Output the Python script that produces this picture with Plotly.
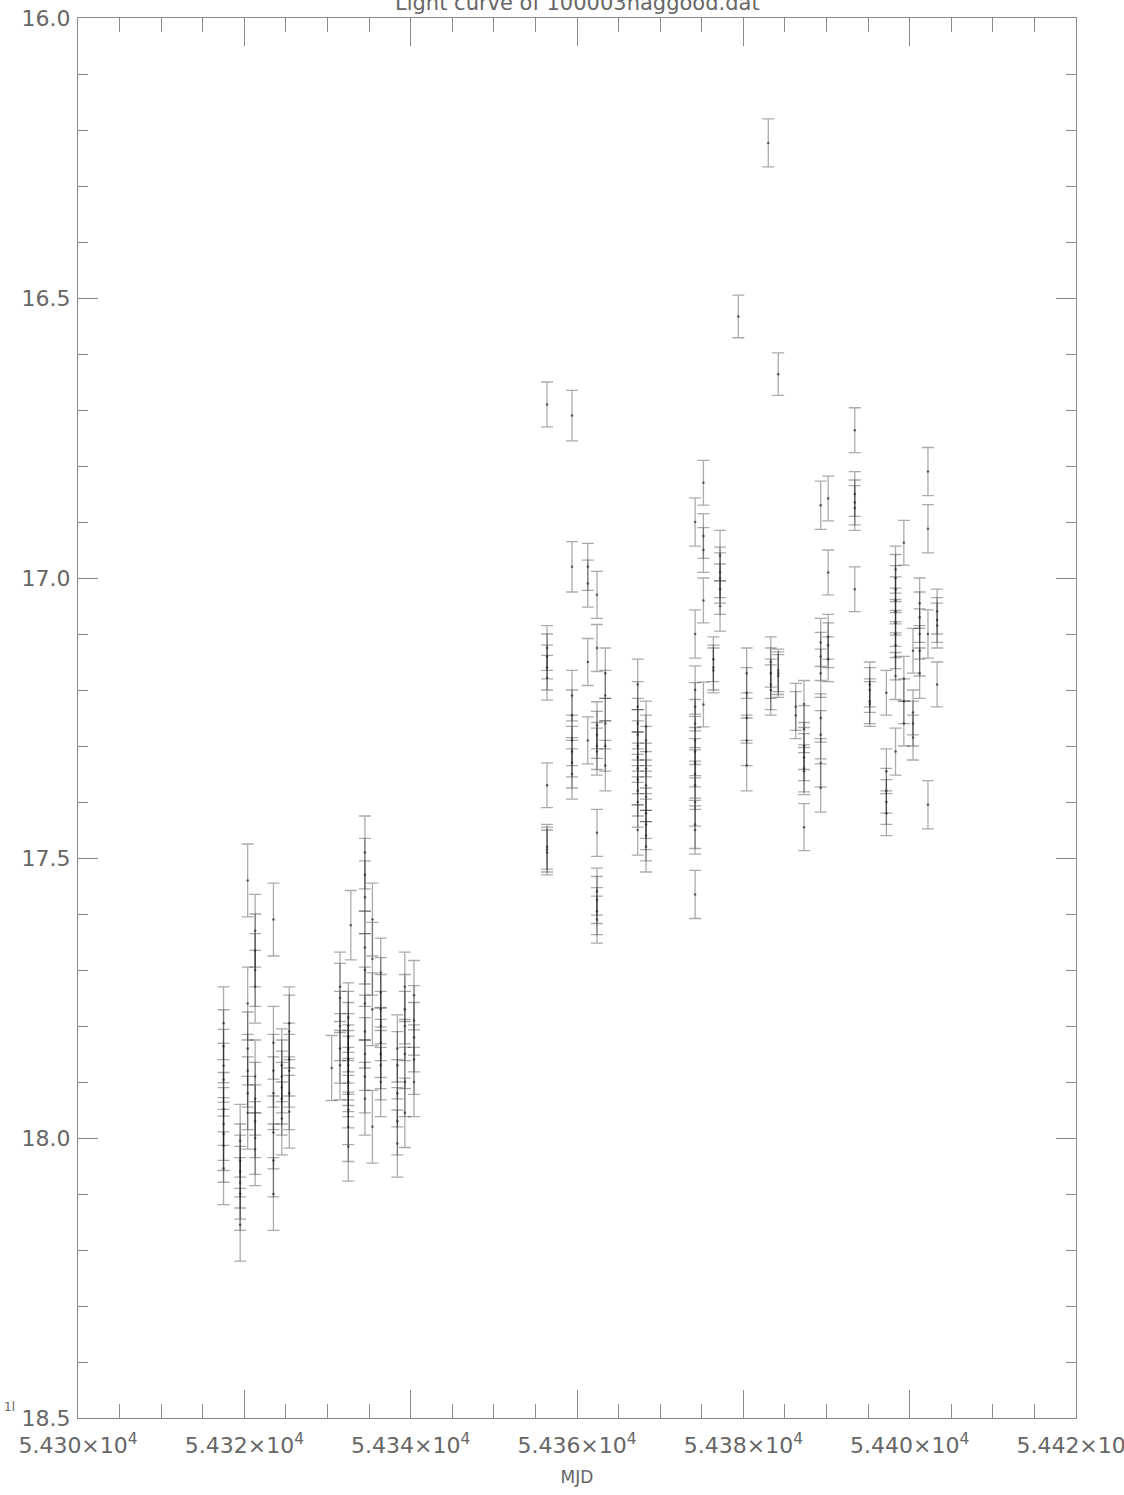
import plotly.graph_objects as go

# ---------------- data ----------------
# Season 1: column MJDs, magnitudes per column, error per column
s1_mjd = [54317.5, 54319.5, 54320.4, 54321.3, 54323.5, 54324.5, 54325.4]
s1_mag = [
    [17.795, 17.836, 17.871, 17.896, 17.948, 17.975, 17.993, 18.014, 18.054],
    [18.005, 18.04, 18.06, 18.08, 18.10, 18.155],
    [17.54, 17.76, 17.84, 17.88, 17.92, 17.955],
    [17.63, 17.665, 17.70, 17.73, 17.89, 17.93, 17.97, 18.0, 18.02],
    [17.61, 17.83, 17.88, 17.92, 17.99, 18.04, 18.10],
    [17.87, 17.89, 17.91, 17.93, 17.965],
    [17.795, 17.81, 17.86, 17.88, 17.92, 17.953],
]
s1_err = [0.065, 0.065, 0.065, 0.065, 0.065, 0.065, 0.065]

# Season 2
s2_mjd = [54330.5, 54331.5, 54332.5, 54332.8, 54334.5, 54335.4, 54336.4,
          54338.4, 54339.3, 54340.4]
s2_mag = [
    [17.875],
    [17.73, 17.75, 17.80, 17.84, 17.87],
    [17.785, 17.80, 17.82, 17.84, 17.86, 17.87, 17.88, 17.90, 17.92, 17.95, 17.98, 18.015],
    [17.62],
    [17.49, 17.53, 17.57, 17.66, 17.70, 17.76, 17.81, 17.85, 17.89, 17.93],
    [17.61, 17.68, 17.77, 17.98],
    [17.705, 17.74, 17.77, 17.80, 17.83, 17.85, 17.87, 17.90],
    [17.84, 17.87, 17.92, 17.97, 18.01],
    [17.73, 17.77, 17.80, 17.85, 17.90, 17.955],
    [17.745, 17.79, 17.82, 17.86, 17.90],
]
s2_err = [0.058, 0.062, 0.062, 0.062, 0.065, 0.065, 0.062, 0.06, 0.062, 0.062]

# Season 3
s3_mjd = [54356.4, 54359.4, 54361.3, 54362.4, 54363.4, 54367.3, 54368.3,
          54374.2, 54375.2, 54376.4, 54377.2, 54379.4, 54380.4, 54383.0,
          54383.3, 54384.2, 54386.3, 54387.3, 54389.3, 54390.2, 54393.4,
          54395.2, 54397.2, 54398.3, 54399.3, 54400.4, 54401.2, 54402.2,
          54403.3]
s3_mag = [
    [16.69, 17.125, 17.14, 17.16, 17.178, 17.37, 17.48, 17.485, 17.49],
    [16.71, 16.98, 17.21, 17.245, 17.29, 17.31, 17.33, 17.35],
    [16.98, 17.01, 17.15, 17.29],
    [17.03, 17.125, 17.263, 17.28, 17.30, 17.31, 17.455, 17.56, 17.575, 17.595, 17.61],
    [17.17, 17.21, 17.26, 17.30, 17.335],
    [17.19, 17.23, 17.26, 17.28, 17.30, 17.32, 17.34, 17.36, 17.38, 17.40, 17.45],
    [17.265, 17.29, 17.31, 17.34, 17.37, 17.39, 17.42, 17.44, 17.46, 17.48],
    [16.90, 17.10, 17.20, 17.23, 17.26, 17.29, 17.31, 17.33, 17.35, 17.37, 17.40, 17.44, 17.45, 17.565],
    [16.83, 16.925, 16.95, 17.04, 17.226],
    [17.145, 17.16, 17.165],
    [16.96, 16.99, 17.0, 17.02, 17.05],
    [16.533],
    [17.17, 17.205, 17.25, 17.29, 17.335],
    [16.223],
    [17.15, 17.17, 17.19, 17.2],
    [16.636, 17.165, 17.17, 17.175],
    [17.23, 17.245],
    [17.225, 17.27, 17.30, 17.32, 17.34, 17.345, 17.445],
    [16.87, 17.115, 17.14, 17.17, 17.25, 17.28, 17.33, 17.375],
    [16.858, 16.99, 17.105, 17.12, 17.145],
    [16.736, 16.85, 16.865, 16.875, 17.02],
    [17.19, 17.2, 17.22, 17.225],
    [17.205, 17.345, 17.38, 17.40, 17.42],
    [16.985, 17.00, 17.02, 17.04, 17.06, 17.08, 17.10, 17.12, 17.14, 17.175, 17.31],
    [16.937, 17.18, 17.22, 17.26],
    [17.13, 17.24, 17.26, 17.285],
    [17.045, 17.07, 17.10, 17.13, 17.17],
    [16.81, 16.912, 17.10, 17.405],
    [17.06, 17.075, 17.085, 17.19],
]
s3_err = [0.04, 0.045, 0.042, 0.042, 0.045, 0.045, 0.045,
          0.043, 0.04, 0.04, 0.045, 0.038, 0.045, 0.043,
          0.045, 0.038, 0.042, 0.042, 0.043, 0.04, 0.04,
          0.04, 0.04, 0.042, 0.04, 0.04, 0.045, 0.043,
          0.04]

x_tickvals = [54300, 54320, 54340, 54360, 54380, 54400, 54420]
x_ticktext = ["5.430×10<sup>4</sup>", "5.432×10<sup>4</sup>", "5.434×10<sup>4</sup>",
              "5.436×10<sup>4</sup>", "5.438×10<sup>4</sup>", "5.440×10<sup>4</sup>",
              "5.442×10<sup>4</sup>"]
y_tickvals = [16.0, 16.5, 17.0, 17.5, 18.0, 18.5]
y_ticktext = ["16.0", "16.5", "17.0", "17.5", "18.0", "18.5"]

title_text = "Light curve of 100003naggood.dat"

# ---------------- build ----------------
xs, ys, es = [], [], []
for cols_mjd, cols_mag, cols_err in ((s1_mjd, s1_mag, s1_err),
                                     (s2_mjd, s2_mag, s2_err),
                                     (s3_mjd, s3_mag, s3_err)):
    for m, mags, e in zip(cols_mjd, cols_mag, cols_err):
        for v in mags:
            xs.append(m)
            ys.append(v)
            es.append(e)

FONT = "DejaVu Sans"
GRAY = "#8a8a8a"
TXT = "#666666"

fig = go.Figure()
fig.add_trace(go.Scatter(
    x=xs, y=ys, mode="markers",
    marker=dict(size=2.5, color="rgba(40,40,40,0.7)"),
    error_y=dict(type="data", array=es, visible=True,
                 color="rgba(0,0,0,0.33)", thickness=1.3, width=6),
    showlegend=False, hoverinfo="skip",
))

axis_common = dict(
    showgrid=False, zeroline=False, showline=True, linecolor=GRAY, linewidth=1,
    mirror="allticks", ticks="inside", tickcolor=GRAY, tickwidth=1,
    tickfont=dict(family=FONT, size=22, color=TXT),
)

fig.update_xaxes(
    range=[54300, 54420], tickmode="array", tickvals=x_tickvals, ticktext=x_ticktext,
    ticklen=28, ticklabelstandoff=8, ticklabeloverflow="allow",
    minor=dict(tickmode="linear", tick0=54300, dtick=5, ticks="inside", ticklen=14,
               tickcolor=GRAY, showgrid=False),
    title=dict(text="MJD", font=dict(family=FONT, size=17, color=TXT), standoff=13),
    **axis_common,
)
fig.update_yaxes(
    range=[18.5, 16.0], tickmode="array", tickvals=y_tickvals, ticktext=y_ticktext,
    ticklen=20, ticklabeloverflow="allow", ticklabelstandoff=2,
    minor=dict(tickmode="linear", tick0=16.0, dtick=0.1, ticks="inside", ticklen=10,
               tickcolor=GRAY, showgrid=False),
    **axis_common,
)

fig.add_annotation(
    text=title_text, xref="paper", yref="paper", x=0.5, y=1.0,
    xanchor="center", yanchor="bottom", yshift=1, showarrow=False,
    font=dict(family=FONT, size=21, color=TXT),
)
fig.add_annotation(
    text="1l", xref="paper", yref="y", x=0.0, y=18.5, xshift=-76,
    xanchor="left", yanchor="bottom", yshift=2, showarrow=False,
    font=dict(family=FONT, size=12, color=TXT),
)

fig.update_layout(
    width=1124, height=1495,
    margin=dict(l=78, r=48, t=18, b=77, autoexpand=False),
    plot_bgcolor="white", paper_bgcolor="white",
)

# remove the browser's default 8px body margin so the figure fills the page
fig.write_html("out.html", config={"displayModeBar": False},
               post_script="document.body.style.margin='0';")
